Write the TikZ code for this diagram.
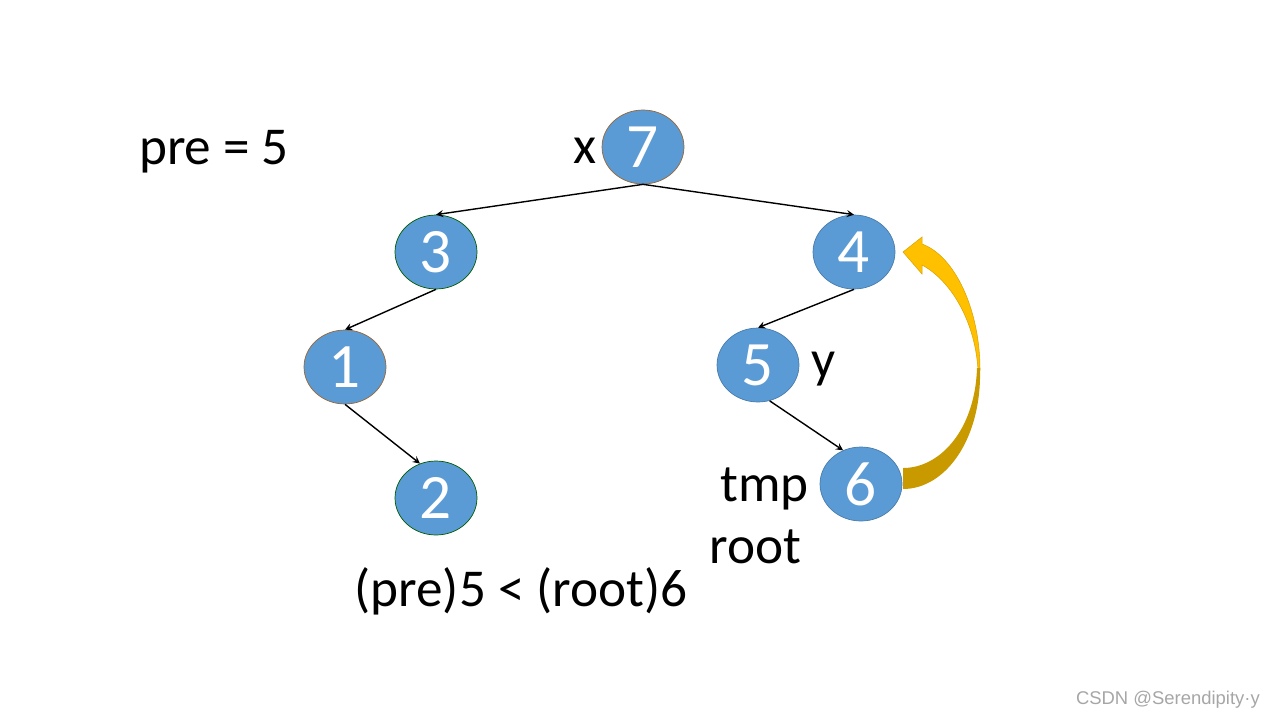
\documentclass[tikz,border=0pt]{standalone}
\usepackage{fontspec}
\setmainfont{Carlito}
\newfontfamily\wmfont{Liberation Sans}
\usetikzlibrary{shapes}
\usepgflibrary{arrows}
\definecolor{nodeblue}{HTML}{5B9BD5}
\definecolor{arrgold}{HTML}{FFC000}
\definecolor{arrdark}{HTML}{C99A00}
\begin{document}
\begin{tikzpicture}[x=0.02cm, y=-0.02cm, >=stealth,
  vert/.style={ellipse, fill=nodeblue, draw=nodeblue!80!black, line width=0.4pt, inner sep=0pt,
    minimum width=1.64cm, minimum height=1.48cm, text=white, font=\fontsize{36}{36}\selectfont},
  lbl/.style={font=\fontsize{30.3}{33}\selectfont, inner sep=0pt},
  edge/.style={->, line width=0.8pt}]
\useasboundingbox (0,0) rectangle (1280,720);
\node[vert, draw=brown!80!black] (v7) at (643,147) {7};
\node[vert, draw=green!35!black] (v3) at (436,252) {3};
\node[vert] (v4) at (854,252) {4};
\node[vert, draw=brown!80!black] (v1) at (345,367) {1};
\node[vert] (v5) at (758,365) {5};
\node[vert, draw=green!35!black] (v2) at (436,498) {2};
\node[vert] (v6) at (861,484) {6};
\draw[edge] (v7.south) -- (v3.north);
\draw[edge] (v7.south) -- (v4.north);
\draw[edge] (v3.south) -- (v1.north);
\draw[edge] (v4.south) -- (v5.north);
\draw[edge] (v1.south) -- (v2.115);
\draw[edge] (v5.288) -- (v6.118);
% curved arrow from 6 back to 4
\fill[arrgold, draw=arrgold!85!black, line width=0.3pt] (922,237) -- (903,252) -- (922,274) -- (922,265)
  .. controls (950,280) and (975,320) .. (978,370)
  -- (980,370) .. controls (980,310) and (955,256) .. (922,244) -- cycle;
\fill[arrdark] (980,368) .. controls (982,440) and (945,489) .. (903,489)
  -- (903,468) .. controls (940,468) and (975,430) .. (977,368) -- cycle;
\node[lbl] (pre) at (214,152) {pre = 5};
\node[lbl, anchor=east] (x) at (597,151) {x};
\node[lbl, anchor=west] (y) at (811,369) {y};
\node[lbl, anchor=east] (tmp) at (809,489) {tmp};
\node[lbl, anchor=east] (root) at (802,547) {root};
\node[lbl] (cmp) at (521,591) {(pre)5 < (root)6};
\node[font=\wmfont\fontsize{10.5}{10.5}\selectfont, text=black!35, anchor=east] (wm) at (1266,700) {CSDN @Serendipity·y};
\end{tikzpicture}
\end{document}
